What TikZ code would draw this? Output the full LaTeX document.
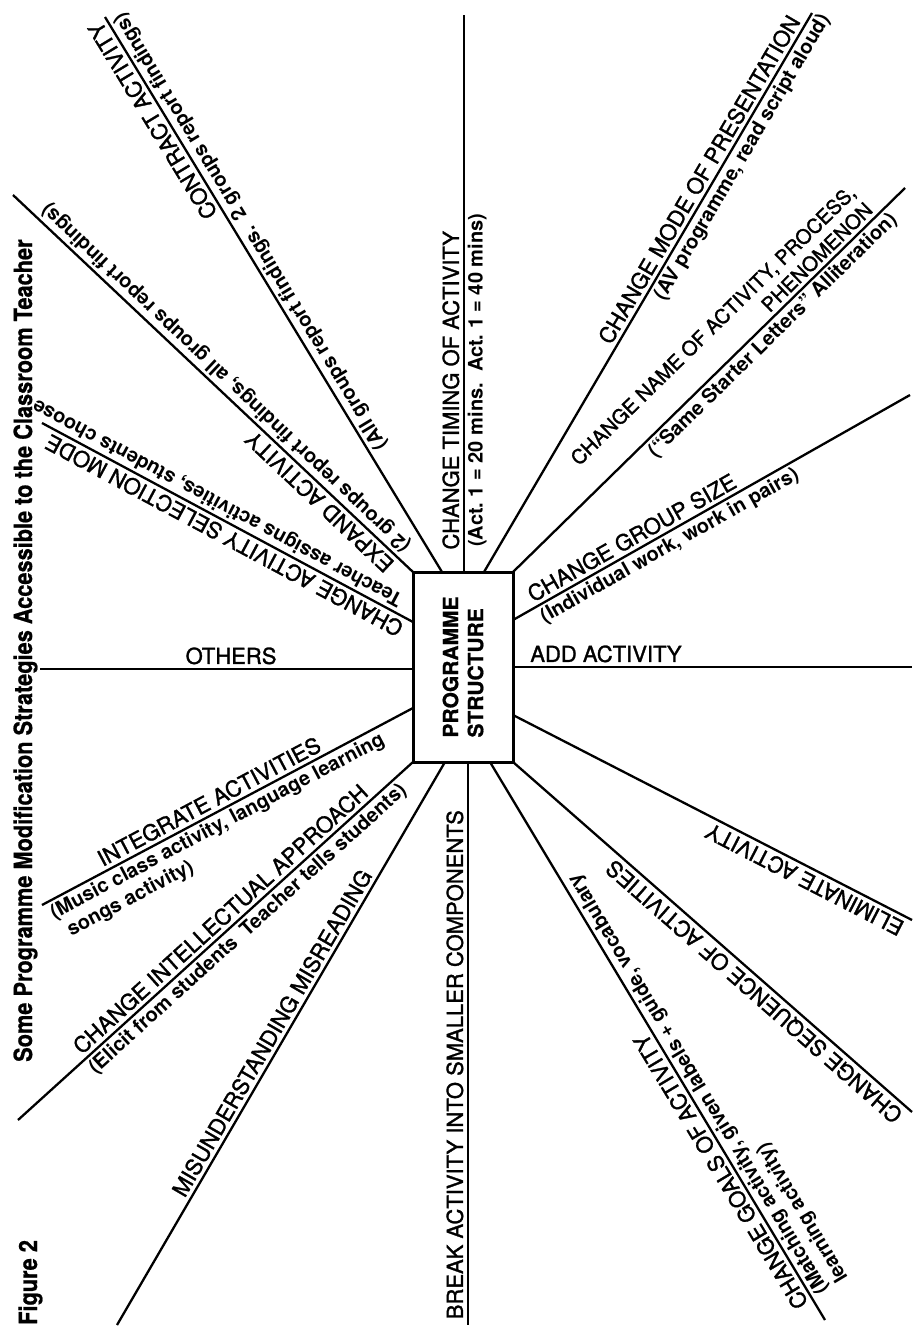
\documentclass[tikz,border=0pt]{standalone}
\usepackage{fontspec}
\usepackage{graphicx}
\setmainfont{TeX Gyre Heros}
\newfontfamily\medfont{TeX Gyre Heros}[FakeBold=1.4]
\newfontfamily\heavyfont{TeX Gyre Heros Bold}[FakeBold=0.8]
\usetikzlibrary{calc}
\newcommand\mlab{\medfont\fontsize{22}{25}\selectfont}
\newcommand\mlabs{\medfont\fontsize{20}{24}\selectfont}
\newcommand\slab{\fontsize{20}{23}\selectfont\bfseries}
\begin{document}
\begin{tikzpicture}[x=1pt,y=1pt,
  spoke/.style={line width=2.3pt},
  mainlab/.style={font=\mlab, inner xsep=0pt, inner ysep=4.5pt, sloped, allow upside down},
  sublab/.style={font=\slab, inner xsep=0pt, inner ysep=3.5pt, sloped, allow upside down},
  titlelab/.style={rotate=90, anchor=base west, inner sep=0pt, font=\heavyfont\fontsize{25}{28}\selectfont}
]
\useasboundingbox (0,0) rectangle (916,-1330);
\fill[white] (0,0) rectangle (916,-1330);

% central box
\node[draw, line width=3pt, minimum width=100pt, minimum height=190pt, inner sep=0pt, outer sep=0pt] (box) at (463,-667) {};
\node[rotate=90, align=left, font=\heavyfont\fontsize{21}{25}\selectfont] (boxtext) at (box.center) {PROGRAMME\\STRUCTURE};

% spoke start points on the box
\coordinate (sContract) at ($(box.north)+(-21,0)$);
\coordinate (sTiming)   at ($(box.north)+(1,0)$);
\coordinate (sMode)     at ($(box.north)+(21,0)$);
\coordinate (sName)     at (box.north east);
\coordinate (sGroup)    at ($(box.east)+(0,47)$);
\coordinate (sAdd)      at (box.east);
\coordinate (sElim)     at ($(box.east)+(0,-48)$);
\coordinate (sSeq)      at (box.south east);
\coordinate (sGoals)    at ($(box.south)+(27,0)$);
\coordinate (sBreak)    at ($(box.south)+(5,0)$);
\coordinate (sMis)      at ($(box.south)+(-18,0)$);
\coordinate (sIntel)    at (box.south west);
\coordinate (sInteg)    at ($(box.west)+(0,-41)$);
\coordinate (sOthers)   at ($(box.west)+(0,-2)$);
\coordinate (sSel)      at ($(box.west)+(0,45)$);
\coordinate (sExp)      at (box.north west);

% spoke end points
\coordinate (eContract) at (105,-17);
\coordinate (eTiming)   at (464,-15);
\coordinate (eMode)     at (812,-13);
\coordinate (eName)     at (905,-188);
\coordinate (eGroup)    at (910,-395);
\coordinate (eAdd)      at (912,-667);
\coordinate (eElim)     at (912,-920);
\coordinate (eSeq)      at (912,-1112);
\coordinate (eGoals)    at (825,-1320);
\coordinate (eBreak)    at (468,-1325);
\coordinate (eMis)      at (117,-1325);
\coordinate (eIntel)    at (18,-1120);
\coordinate (eInteg)    at (42,-905);
\coordinate (eOthers)   at (40,-669);
\coordinate (eSel)      at (42,-423);
\coordinate (eExp)      at (13,-195);

\foreach \n in {Contract,Timing,Mode,Name,Group,Add,Elim,Seq,Goals,Break,Mis,Intel,Integ,Others,Sel,Exp}
  \draw[spoke] (s\n) -- (e\n);

% labels
\path (sContract) -- (eContract)
  node[mainlab, pos=1, anchor=south east] {CONTRACT ACTIVITY}
  node[sublab, pos=0.21, anchor=north west] {(All groups report findings.\ \ 2 groups report findings)};
\path (sTiming) -- (eTiming)
  node[mainlab, pos=0.04, anchor=south west] {CHANGE TIMING OF ACTIVITY}
  node[sublab, pos=0.045, anchor=north west] {(Act.\ 1 = 20 mins.\ \ Act.\ 1 = 40 mins)};
\path (sMode) -- (eMode)
  node[mainlab, pos=0.40, anchor=south west] {CHANGE MODE OF PRESENTATION}
  node[sublab, pos=0.50, anchor=north west] {(AV programme, read script aloud)};
\path (sName) -- (eName)
  node[mainlab, font=\mlabs, pos=0.93, anchor=south east, align=right] {CHANGE NAME OF ACTIVITY, PROCESS,\\PHENOMENON}
  node[sublab, pos=0.33, anchor=north west] {(``Same Starter Letters'' Alliteration)};
\path (sGroup) -- (eGroup)
  node[mainlab, pos=0.057, anchor=south west] {CHANGE GROUP SIZE}
  node[sublab, pos=0.057, anchor=north west] {(Individual work, work in pairs)};
\path (sAdd) -- (eAdd)
  node[mainlab, pos=0.043, anchor=south west] {ADD ACTIVITY};
\path (eElim) -- (sElim)
  node[mainlab, pos=0.01, anchor=south west] {ELIMINATE ACTIVITY};
\path (eSeq) -- (sSeq)
  node[mainlab, pos=0.01, anchor=south west] {CHANGE SEQUENCE OF ACTIVITIES};
\path (eGoals) -- (sGoals)
  node[mainlab, pos=0.035, anchor=south west] {CHANGE GOALS OF ACTIVITY}
  node[sublab, pos=0.037, anchor=north west, align=left] {(Matching activity, given labels + guide, vocabulary\\learning activity)};
\path (eBreak) -- (sBreak)
  node[mainlab, pos=0.01, anchor=south west] {BREAK ACTIVITY INTO SMALLER COMPONENTS};
\path (eMis) -- (sMis)
  node[mainlab, pos=0.22, anchor=south west] {MISUNDERSTANDING MISREADING};
\path (eIntel) -- (sIntel)
  node[mainlab, pos=0.17, anchor=south west] {CHANGE INTELLECTUAL APPROACH}
  node[sublab, pos=0.165, anchor=north west] {(Elicit from students\ \ Teacher tells students)};
\path (eInteg) -- (sInteg)
  node[mainlab, pos=0.17, anchor=south west] {INTEGRATE ACTIVITIES}
  node[sublab, pos=0.01, anchor=north west, align=left] {(Music class activity, language learning\\\phantom{(}songs activity)};
\path (eOthers) -- (sOthers)
  node[mainlab, pos=0.39, anchor=south west] {OTHERS};
\path (sSel) -- (eSel)
  node[mainlab, pos=0.015, anchor=south west] {CHANGE ACTIVITY SELECTION MODE}
  node[sublab, pos=0.048, anchor=north west] {Teacher assigns activities, students choose};
\path (sExp) -- (eExp)
  node[mainlab, pos=0.035, anchor=south west] {EXPAND ACTIVITY}
  node[sublab, pos=0.036, anchor=north west] {(2 groups report findings, all groups report findings)};

% title and figure number
\node[titlelab] (title) at (32,-1062) {\scalebox{0.87}[1]{Some Programme Modification Strategies Accessible to the Classroom Teacher}};
\node[titlelab] (fig) at (37,-1325) {\scalebox{0.87}[1]{Figure 2}};
\end{tikzpicture}
\end{document}
